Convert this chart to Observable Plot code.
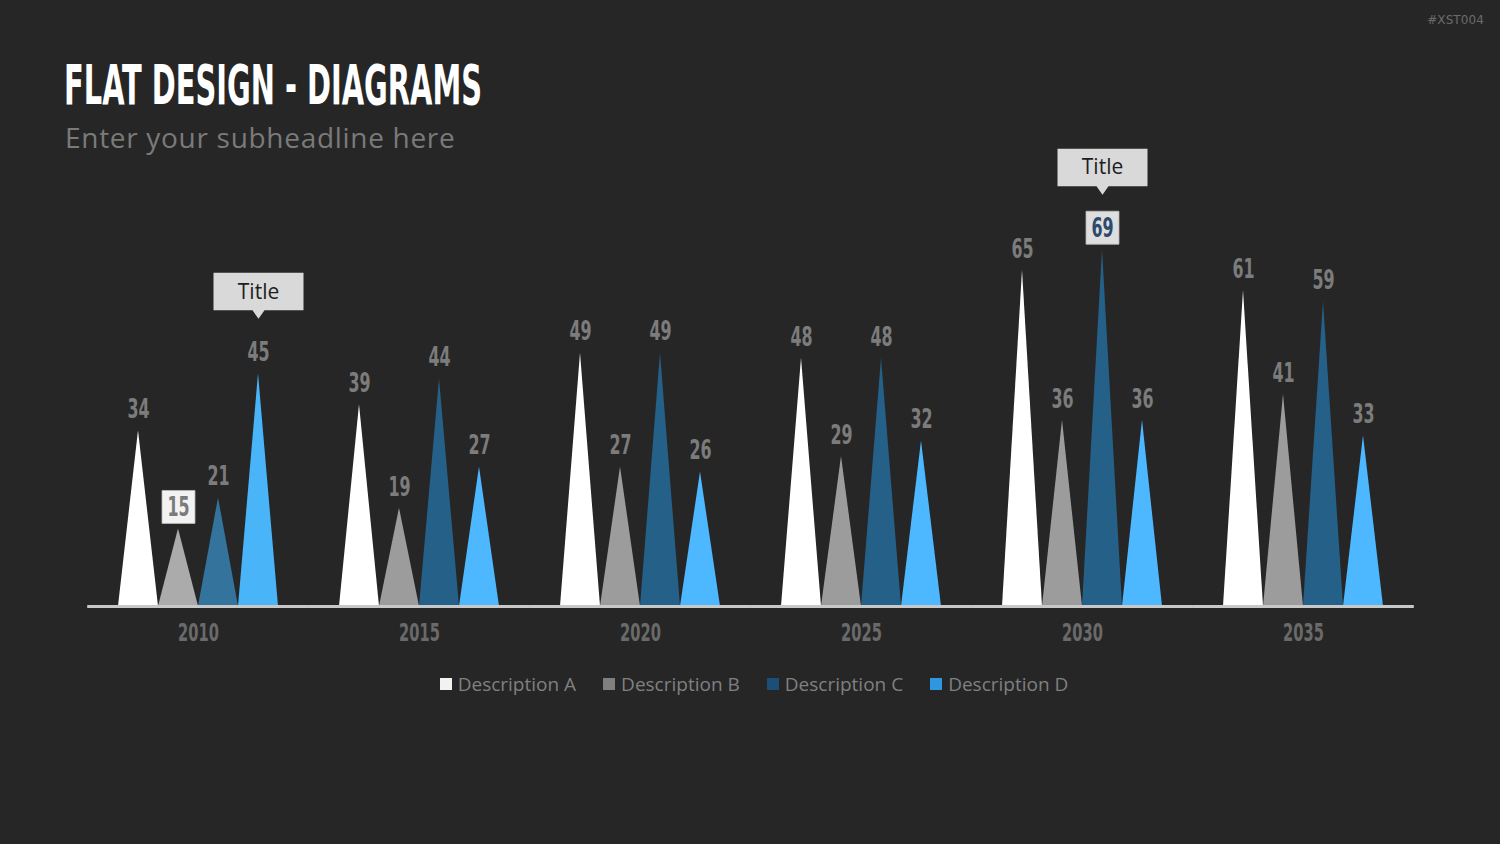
<!DOCTYPE html>
<html>
<head>
<meta charset="utf-8">
<script src="https://cdn.jsdelivr.net/npm/d3@7"></script>
<script src="https://cdn.jsdelivr.net/npm/@observablehq/plot@0.6"></script>
<style>
  html, body { margin: 0; padding: 0; background: #262626; }
  #page { position: relative; width: 1500px; height: 844px; overflow: hidden; background: #262626; }
  #code { position: absolute; right: 16px; top: 13px; font: 12px "DejaVu Sans", sans-serif; color: #6b6b6b; letter-spacing: 0.1px; }
  #title { position: absolute; left: 64px; top: 57px; font: bold 56px "DejaVu Sans Condensed", sans-serif; color: #ffffff; line-height: 1; white-space: nowrap; transform-origin: left top; }
  #subtitle { position: absolute; left: 65px; top: 123px; font: 28px "Open Sans", sans-serif; color: #7a7a7a; line-height: 1; white-space: nowrap; letter-spacing: 0.7px; }
  #chart { position: absolute; left: 0; top: 140px; }
  #legend { position: absolute; left: 4px; top: 672px; width: 1500px; display: flex; justify-content: center; gap: 27px; font: 19px "Open Sans", sans-serif; color: #808080; line-height: 24px; }
  #legend .item { display: flex; align-items: center; gap: 6px; }
  #legend .swatch { width: 12px; height: 12px; display: inline-block; }
</style>
</head>
<body>
<div id="page">
  <div id="code">#XST004</div>
  <div id="title">FLAT DESIGN - DIAGRAMS</div>
  <div id="subtitle">Enter your subheadline here</div>
  <div id="chart"></div>
  <div id="legend"></div>
</div>
<script>
// Years along the axis and the four described series
const years = [2010, 2015, 2020, 2025, 2030, 2035];
const seriesNames = ["Description A", "Description B", "Description C", "Description D"];
const valuesA = [34, 39, 49, 48, 65, 61];
const valuesB = [15, 19, 27, 29, 36, 41];
const valuesC = [21, 44, 49, 48, 69, 59];
const valuesD = [45, 27, 26, 32, 36, 33];

// Series fills (the first year group uses a slightly lighter set)
const seriesColors = ["#ffffff", "#9c9c9c", "#256089", "#4db8ff"];
const firstGroupColors = ["#ffffff", "#ababab", "#33739c", "#4ab4f8"];
const legendColors = ["#f2f2f2", "#808080", "#1b4f78", "#2f96e0"];

// Values shown inside a small box, and spikes carrying a callout
const boxedValues = [
  {year: 2010, series: "Description B", box: "#f2f2f2", ink: "#7a7a7a"},
  {year: 2030, series: "Description C", box: "#dedede", ink: "#2c4a6b"}
];
const callouts = [
  {year: 2010, series: "Description D", text: "Title"},
  {year: 2030, series: "Description C", text: "Title"}
];

const valuesBySeries = [valuesA, valuesB, valuesC, valuesD];
const bars = years.flatMap((year, gi) => seriesNames.map((series, si) => ({
  year, series, slot: si,
  value: valuesBySeries[si][gi],
  fill: (gi === 0 ? firstGroupColors : seriesColors)[si]
})));

// Each spike is a triangle: base spanning its slot, apex at the value
const outline = bars.flatMap(d => [
  {year: d.year, series: d.series, fill: d.fill, x: d.slot, y: 0},
  {year: d.year, series: d.series, fill: d.fill, x: d.slot + 0.5, y: d.value},
  {year: d.year, series: d.series, fill: d.fill, x: d.slot + 1, y: 0}
]);

const findIn = (list, d) => list.find(b => b.year === d.year && b.series === d.series);
const plainLabels = bars.filter(d => !findIn(boxedValues, d));
const boxedLabels = bars.filter(d => findIn(boxedValues, d)).map(d => ({...d, ...findIn(boxedValues, d)}));
const calloutRows = bars.filter(d => findIn(callouts, d)).map(d => ({...d, text: findIn(callouts, d).text}));

// Speech-bubble shape whose pointer tip sits at the dot position
const calloutShape = {
  draw(context) {
    const w = 45, h = 37.5, n = 8.5, nw = 6;
    context.moveTo(0, 0);
    context.lineTo(-nw, -n);
    context.lineTo(-w, -n);
    context.lineTo(-w, -n - h);
    context.lineTo(w, -n - h);
    context.lineTo(w, -n);
    context.lineTo(nw, -n);
    context.closePath();
  }
};

const narrow = "'DejaVu Sans Condensed', sans-serif";
const slotCenter = d => d.slot + 0.5;

const chart = Plot.plot({
  width: 1500,
  height: 510,
  marginLeft: 86,
  marginRight: 85,
  marginTop: 26.5,
  marginBottom: 44,
  style: {background: "transparent", overflow: "visible"},
  fx: {domain: years, paddingInner: 0.278, paddingOuter: 0.139, label: null},
  x: {domain: [0, 4], axis: null},
  y: {domain: [0, 85], axis: null},
  color: {type: "identity"},
  marks: [
    Plot.areaY(outline, {fx: "year", x: "x", y1: 0, y2: "y", z: "series", fill: "fill"}),
    Plot.ruleY([0], {stroke: "#c8c8c8", strokeWidth: 3, insetLeft: -30.8, insetRight: -30.8}),
    Plot.axisFx({
      anchor: "bottom", tickSize: 0, tickPadding: 17, label: null, tickFormat: d => `${d}`,
      fontSize: 24, fill: "#6a6a6a", fontFamily: narrow, fontWeight: "bold"
    }),
    Plot.text(plainLabels, {
      fx: "year", x: slotCenter, y: "value", text: d => String(d.value), dy: -21,
      fill: "#7c7c7c", fontSize: 26, fontFamily: narrow, fontWeight: "bold"
    }),
    Plot.dot(boxedLabels, {
      fx: "year", x: slotCenter, y: "value", dy: -22, symbol: "square", r: 18.6,
      fill: "box", stroke: "#bdbdbd", strokeWidth: 0.8
    }),
    Plot.text(boxedLabels, {
      fx: "year", x: slotCenter, y: "value", text: d => String(d.value), dy: -21,
      fill: "ink", fontSize: 26, fontFamily: narrow, fontWeight: "bold"
    }),
    Plot.dot(calloutRows, {
      fx: "year", x: slotCenter, y: "value", dy: -55, symbol: calloutShape, r: 1,
      fill: "#d9d9d9", stroke: "none"
    }),
    Plot.text(calloutRows, {
      fx: "year", x: slotCenter, y: "value", text: "text", dy: -82,
      fill: "#1e1e1e", fontSize: 21, fontFamily: "'Open Sans', sans-serif", fontWeight: "normal"
    })
  ]
});
document.getElementById("chart").append(chart);

// Squeeze the condensed numerals horizontally (glyphs keep their anchor)
function condense(svg, s) {
  svg.querySelectorAll("text").forEach(t => {
    const g = t.closest("[font-family]");
    if (!g || !g.getAttribute("font-family").includes("Condensed")) return;
    const w = t.getComputedTextLength();
    t.setAttribute("textLength", (w * s).toFixed(2));
    t.setAttribute("lengthAdjust", "spacingAndGlyphs");
  });
}
condense(chart, 0.68);

// Legend row
const legend = document.getElementById("legend");
seriesNames.forEach((name, i) => {
  const item = document.createElement("span");
  item.className = "item";
  const sw = document.createElement("span");
  sw.className = "swatch";
  sw.style.background = legendColors[i];
  const label = document.createElement("span");
  label.textContent = name;
  item.append(sw, label);
  legend.append(item);
});

// Condense the heading to its column width
const title = document.getElementById("title");
const tw = title.getBoundingClientRect().width;
title.style.transform = `scaleX(${418 / tw})`;
</script>
</body>
</html>
